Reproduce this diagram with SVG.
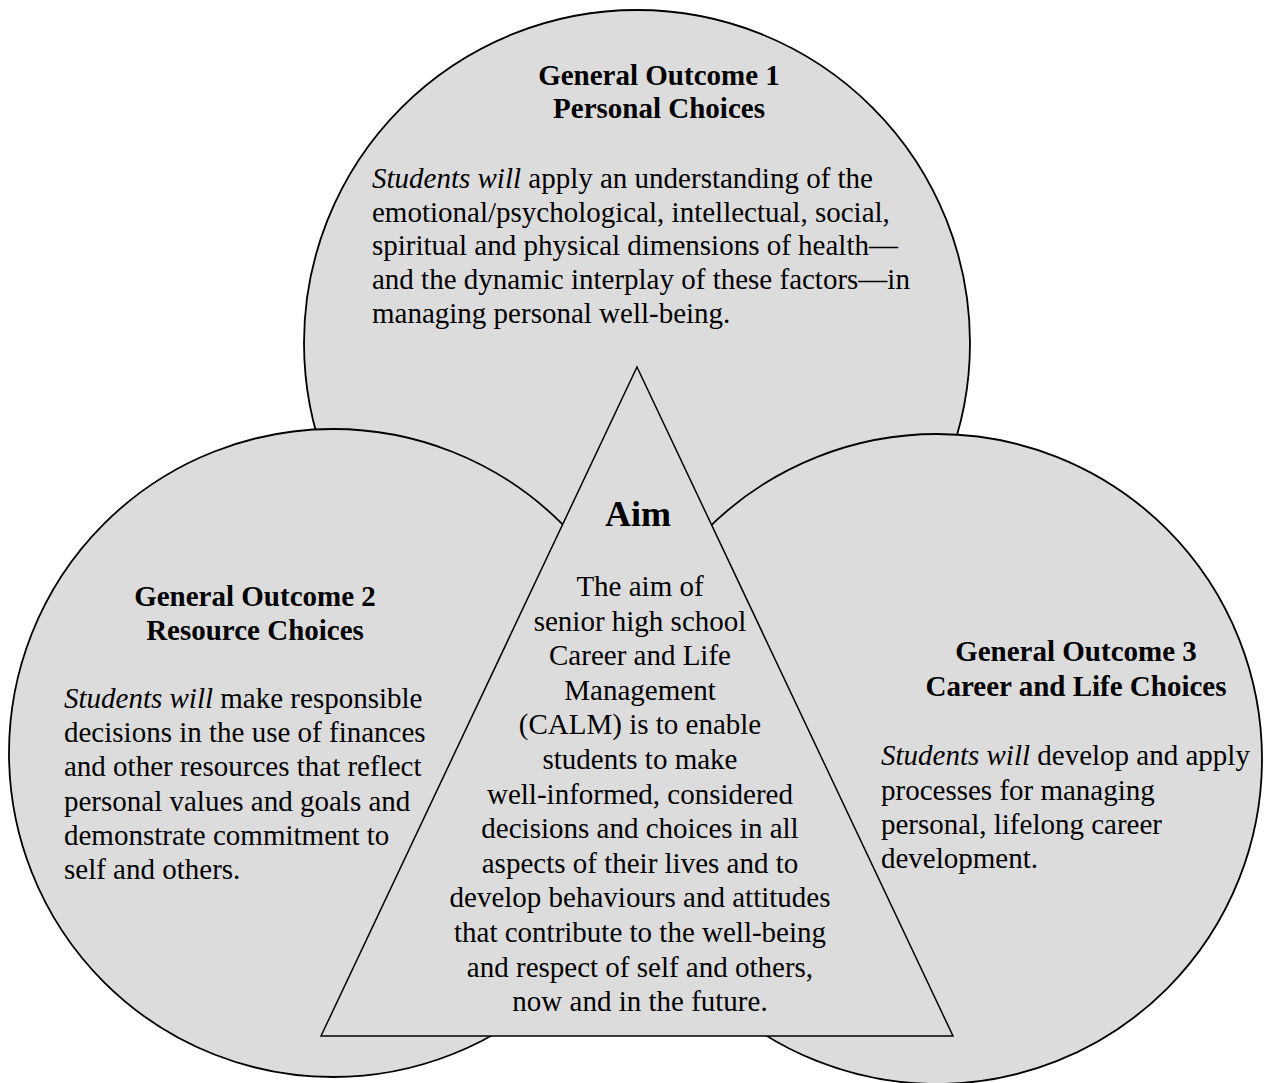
<svg xmlns="http://www.w3.org/2000/svg" width="1266" height="1083" viewBox="0 0 1266 1083">
<style>
.shape{fill:#dcdcdc;stroke:#000;stroke-width:1.8}
.tri{fill:#dcdcdc;stroke:#000;stroke-width:1.5}
text{font-family:"Liberation Serif","Times New Roman",serif;font-size:29px;fill:#000}
.h{font-weight:bold;text-anchor:middle}
.aim{font-weight:bold;font-size:36px;text-anchor:middle}
.c{text-anchor:middle}
.i{font-style:italic}
</style>
<rect width="1266" height="1083" fill="#fff"/>
<g id="node-personal">
<circle class="shape" cx="637" cy="343" r="333"/>
<text class="h" x="659" y="85">General Outcome 1</text>
<text class="h" x="659" y="118">Personal Choices</text>
<text x="372" y="188"><tspan class="i">Students will</tspan> apply an understanding of the</text>
<text x="372" y="222">emotional/psychological, intellectual, social,</text>
<text x="372" y="255">spiritual and physical dimensions of health—</text>
<text x="372" y="289">and the dynamic interplay of these factors—in</text>
<text x="372" y="323">managing personal well-being.</text>
</g>
<g id="node-resource">
<circle class="shape" cx="333" cy="753" r="324"/>
<text class="h" x="255" y="606">General Outcome 2</text>
<text class="h" x="255" y="640">Resource Choices</text>
<text x="64" y="708"><tspan class="i">Students will</tspan> make responsible</text>
<text x="64" y="742">decisions in the use of finances</text>
<text x="64" y="776">and other resources that reflect</text>
<text x="64" y="811">personal values and goals and</text>
<text x="64" y="845">demonstrate commitment to</text>
<text x="64" y="879">self and others.</text>
</g>
<g id="node-career">
<circle class="shape" cx="937" cy="759" r="325"/>
<text class="h" x="1076" y="661">General Outcome 3</text>
<text class="h" x="1076" y="696">Career and Life Choices</text>
<text x="881" y="765"><tspan class="i">Students will</tspan> develop and apply</text>
<text x="881" y="800">processes for managing</text>
<text x="881" y="834">personal, lifelong career</text>
<text x="881" y="868">development.</text>
</g>
<g id="node-aim">
<polygon class="tri" points="637,367 953,1036 321,1036"/>
<text class="aim" x="638" y="526">Aim</text>
<text class="c" x="640" y="596">The aim of</text>
<text class="c" x="640" y="631">senior high school</text>
<text class="c" x="640" y="665">Career and Life</text>
<text class="c" x="640" y="700">Management</text>
<text class="c" x="640" y="734">(CALM) is to enable</text>
<text class="c" x="640" y="769">students to make</text>
<text class="c" x="640" y="804">well-informed, considered</text>
<text class="c" x="640" y="838">decisions and choices in all</text>
<text class="c" x="640" y="873">aspects of their lives and to</text>
<text class="c" x="640" y="907">develop behaviours and attitudes</text>
<text class="c" x="640" y="942">that contribute to the well-being</text>
<text class="c" x="640" y="977">and respect of self and others,</text>
<text class="c" x="640" y="1011">now and in the future.</text>
</g>
<g id="connectors"></g>
</svg>
